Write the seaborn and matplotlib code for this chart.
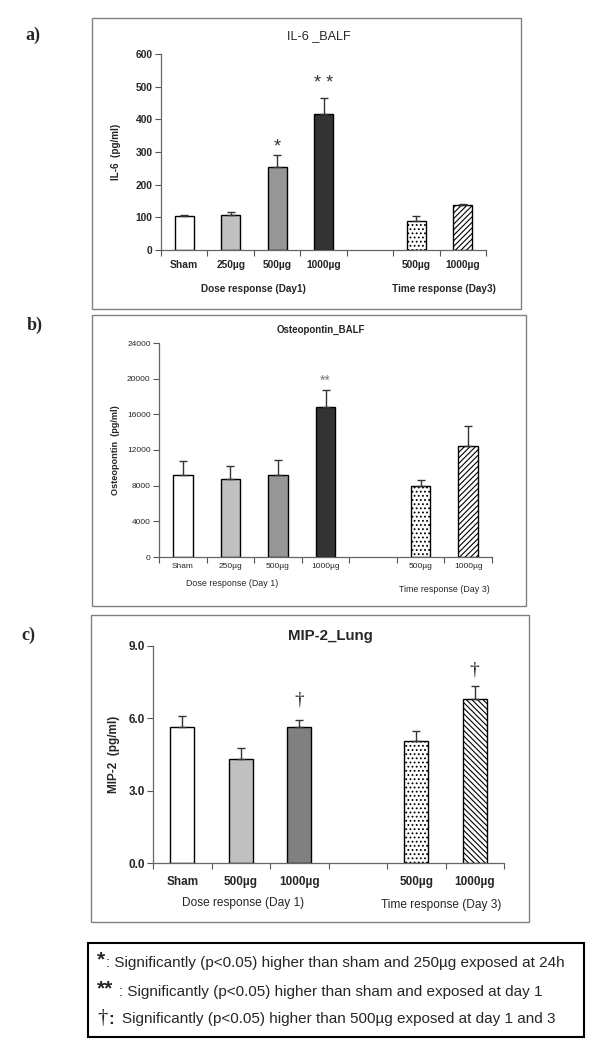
import numpy as np
import pandas as pd
import matplotlib
matplotlib.use("Agg")
import matplotlib.pyplot as plt
import seaborn as sns
from matplotlib.ticker import FixedLocator, NullFormatter
from matplotlib.patches import Rectangle

# ---------------- data ----------------
a_cats = ["Sham", "250µg", "500µg", "1000µg", "", "D3_500µg", "D3_1000µg"]
a_present = ["Sham", "250µg", "500µg", "1000µg", "D3_500µg", "D3_1000µg"]
a_vals = [103, 108, 255, 415, 89, 137]
a_errs = [3, 8, 35, 50, 14, 4]

b_vals = [9250, 8700, 9250, 16800, 7950, 12400]
b_errs = [1570, 1530, 1650, 1940, 710, 2270]

c_cats = ["Sham", "500µg", "1000µg", "", "D3_500µg", "D3_1000µg"]
c_present = ["Sham", "500µg", "1000µg", "D3_500µg", "D3_1000µg"]
c_vals = [5.65, 4.30, 5.65, 5.05, 6.80]
c_errs = [0.43, 0.48, 0.30, 0.44, 0.54]

ab_ticklabels = ["Sham", "250µg", "500µg", "1000µg", "", "500µg", "1000µg"]
c_ticklabels = ["Sham", "500µg", "1000µg", "", "500µg", "1000µg"]

a_yticks = [0, 100, 200, 300, 400, 500, 600]
b_yticks = [0, 4000, 8000, 12000, 16000, 20000, 24000]
c_yticks = [0.0, 3.0, 6.0, 9.0]

legend_syms = ["*", "**", "†"]
legend_texts = [
    "Significantly (p<0.05) higher than sham and 250µg exposed at 24h",
    "Significantly (p<0.05) higher than sham and exposed at day 1",
    "Significantly (p<0.05) higher than 500µg exposed at day 1 and 3",
]

# ---------------- styling ----------------
sns.set_theme(style="white")
plt.rcParams["font.family"] = ["Liberation Sans", "DejaVu Sans"]
plt.rcParams["hatch.color"] = "#222222"
plt.rcParams["hatch.linewidth"] = 0.8

W, H = 600, 1051
fig = plt.figure(figsize=(W / 100, H / 100), dpi=100)
fig.patch.set_facecolor("white")


def fx(x):
    return x / W


def fy(y):
    return 1 - y / H


def add_axes_px(x0, x1, ytop, ybot):
    return fig.add_axes([fx(x0), fy(ybot), fx(x1) - fx(x0), (ybot - ytop) / H])


def box_px(x0, y0, x1, y1, color="#808080", lw=1.0):
    fig.patches.append(Rectangle((fx(x0), fy(y1)), fx(x1) - fx(x0), (y1 - y0) / H,
                                 transform=fig.transFigure, fill=False,
                                 edgecolor=color, linewidth=lw))


fills_ab = {"Sham": "white", "250µg": "#c0c0c0", "500µg": "#969696",
            "1000µg": "#333333", "D3_500µg": "white", "D3_1000µg": "white"}
fills_c = {"Sham": "white", "500µg": "#c0c0c0", "1000µg": "#808080",
           "D3_500µg": "white", "D3_1000µg": "white"}


def draw_panel(ax, cats, present, vals, errs, palette, hatches, width, ymax, yticks,
               ticklabels, tick_fs, tick_bold, xpad, yfmt=None):
    df = pd.DataFrame({"cat": present, "val": vals})
    sns.barplot(data=df, x="cat", y="val", hue="cat", order=cats, hue_order=present,
                palette=palette, width=width, edgecolor="black", linewidth=1.0,
                legend=False, ax=ax, errorbar=None, saturation=1)
    pos = [cats.index(c) for c in present]
    for p in ax.patches:
        cx = p.get_x() + p.get_width() / 2
        name = cats[int(round(cx))]
        if name in hatches:
            p.set_hatch(hatches[name])
    ax.errorbar(pos, vals, yerr=[np.zeros(len(vals)), errs], fmt="none",
                ecolor="#333333", elinewidth=1.0, capsize=3, capthick=1.0, zorder=1)
    ax.set_xlim(-0.5, len(cats) - 0.5)
    ax.set_ylim(0, ymax)
    ax.set_yticks(yticks)
    if yfmt:
        ax.set_yticklabels([yfmt.format(v) for v in yticks])
    ax.set_xticks(range(len(cats)))
    ax.set_xticklabels(ticklabels)
    ax.xaxis.set_minor_locator(FixedLocator(np.arange(-0.5, len(cats), 1.0)))
    ax.xaxis.set_minor_formatter(NullFormatter())
    ax.tick_params(axis="x", which="major", length=0, pad=xpad)
    ax.tick_params(axis="x", which="minor", length=4, width=0.8, color="#555555",
                   direction="out", bottom=True)
    ax.tick_params(axis="y", length=4, width=0.8, color="#555555", direction="out",
                   left=True, pad=2)
    for lab in ax.get_xticklabels() + ax.get_yticklabels():
        lab.set_fontsize(tick_fs)
        lab.set_fontweight("bold" if tick_bold else "normal")
    ax.set_xlabel("")
    for s in ["top", "right"]:
        ax.spines[s].set_visible(False)
    for s in ["left", "bottom"]:
        ax.spines[s].set_color("#666666")
        ax.spines[s].set_linewidth(0.9)
    ax.set_facecolor("none")


def set_ylabel_px(ax, text, fs, xpx, x0, x1):
    ax.set_ylabel(text, fontsize=fs, fontweight="bold")
    ax.yaxis.label.set_va("center")
    ax.yaxis.set_label_coords((xpx - x0) / (x1 - x0), 0.5)


# ---------------- panel a ----------------
box_px(92, 18, 521, 309)
ax0, ax1 = 161, 486
axa = add_axes_px(ax0, ax1, 54, 250)
draw_panel(axa, a_cats, a_present, a_vals, a_errs, fills_ab,
           {"D3_500µg": "....", "D3_1000µg": "//////"}, 0.41, 600, a_yticks,
           ab_ticklabels, 7.4, True, 7.0)
set_ylabel_px(axa, "IL-6  (pg/ml)", 7.1, 116, ax0, ax1)
axa.text(2, 316, "*", ha="center", va="center", fontsize=13, color="#333333")
axa.text(3, 509, "* *", ha="center", va="center", fontsize=13, color="#333333")
fig.text(fx(319), fy(36), "IL-6 _BALF", ha="center", va="center", fontsize=9.1)
fig.text(fx(253), fy(289), "Dose response (Day1)", ha="center", va="center",
         fontsize=7.2, fontweight="bold")
fig.text(fx(444), fy(289), "Time response (Day3)", ha="center", va="center",
         fontsize=7.2, fontweight="bold")
fig.text(fx(33), fy(35), "a)", ha="center", va="center", fontsize=13,
         fontweight="bold", family=["Liberation Serif"])

# ---------------- panel b ----------------
box_px(92, 315, 526, 606)
bx0, bx1 = 159, 492
axb = add_axes_px(bx0, bx1, 343, 557)
draw_panel(axb, a_cats, a_present, b_vals, b_errs, fills_ab,
           {"D3_500µg": "....", "D3_1000µg": "//////"}, 0.41, 24000, b_yticks,
           ab_ticklabels, 6.0, False, 4.5)
set_ylabel_px(axb, "Osteopontin  (pg/ml)", 6.6, 115, bx0, bx1)
axb.text(3, 19800, "**", ha="center", va="center", fontsize=10, color="#777777")
fig.text(fx(321), fy(330), "Osteopontin_BALF", ha="center", va="center",
         fontsize=7, fontweight="bold")
fig.text(fx(232), fy(584), "Dose response (Day 1)", ha="center", va="center",
         fontsize=6.4)
fig.text(fx(444), fy(589), "Time response (Day 3)", ha="center", va="center",
         fontsize=6.4)
fig.text(fx(35), fy(325), "b)", ha="center", va="center", fontsize=13,
         fontweight="bold", family=["Liberation Serif"])

# ---------------- panel c ----------------
box_px(91, 615, 529, 922)
cx0, cx1 = 153, 504
axc = add_axes_px(cx0, cx1, 646, 863)
draw_panel(axc, c_cats, c_present, c_vals, c_errs, fills_c,
           {"D3_500µg": "....", "D3_1000µg": "\\\\\\\\\\\\"}, 0.41, 9.0, c_yticks,
           c_ticklabels, 8.5, True, 9.5, yfmt="{:.1f}")
set_ylabel_px(axc, "MIP-2  (pg/ml)", 8.5, 114, cx0, cx1)
axc.text(2, 6.75, "†", ha="center", va="center", fontsize=14, color="#222222",
         family=["Liberation Serif"])
axc.text(5, 8.0, "†", ha="center", va="center", fontsize=14, color="#222222",
         family=["Liberation Serif"])
fig.text(fx(330), fy(636), "MIP-2_Lung", ha="center", va="center",
         fontsize=10.8, fontweight="bold")
fig.text(fx(243), fy(903), "Dose response (Day 1)", ha="center", va="center",
         fontsize=8.6)
fig.text(fx(441), fy(905), "Time response (Day 3)", ha="center", va="center",
         fontsize=8.6)
fig.text(fx(28), fy(635), "c)", ha="center", va="center", fontsize=13,
         fontweight="bold", family=["Liberation Serif"])

# ---------------- legend box ----------------
box_px(88, 943, 584, 1037, color="black", lw=1.5)
ys = [963, 992, 1019]
# line 1
fig.text(fx(97), fy(ys[0] - 3), legend_syms[0], ha="left", va="center",
         fontsize=15, fontweight="bold")
fig.text(fx(106), fy(ys[0]), ": " + legend_texts[0], ha="left", va="center",
         fontsize=11)
# line 2
fig.text(fx(97), fy(ys[1] - 3), legend_syms[1], ha="left", va="center",
         fontsize=15, fontweight="bold")
fig.text(fx(119), fy(ys[1]), ": " + legend_texts[1], ha="left", va="center",
         fontsize=11)
# line 3
fig.text(fx(97), fy(ys[2]), legend_syms[2], ha="left", va="center",
         fontsize=15, family=["Liberation Serif"])
fig.text(fx(108), fy(ys[2]), ":", ha="left", va="center", fontsize=12,
         fontweight="bold")
fig.text(fx(122), fy(ys[2]), legend_texts[2], ha="left", va="center",
         fontsize=11)

fig.savefig("out.png", dpi=100, facecolor="white")
